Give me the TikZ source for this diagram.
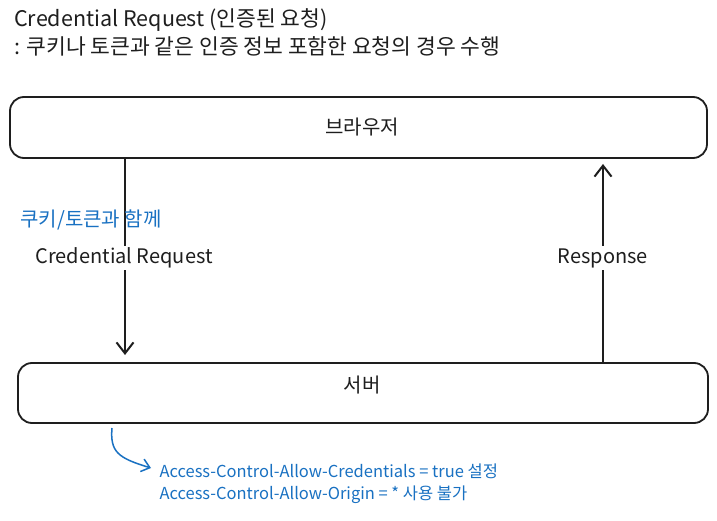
\documentclass[tikz,border=0pt]{standalone}
\usepackage{fontspec}
\setmainfont{Noto Sans CJK KR}
\usetikzlibrary{arrows.meta}
\definecolor{bluetxt}{HTML}{1971C2}
\definecolor{ink}{HTML}{1E1E1E}
\tikzset{
  box/.style={draw=ink, line width=1.8pt, rounded corners=14pt},
  lbl/.style={font=\fontsize{20}{24}\selectfont, text=ink},
  ttl/.style={font=\fontsize{21.5}{26}\selectfont, text=ink, anchor=west, inner sep=0pt},
  flow/.style={draw=ink, line width=2pt, -{Straight Barb[length=11pt,width=17pt,line width=2pt]}},
  note/.style={font=\fontsize{16.5}{20}\selectfont, text=bluetxt, anchor=west},
}
\begin{document}
\begin{tikzpicture}[x=1pt,y=-1pt]
\useasboundingbox[fill=white] (0,0) rectangle (717,521);
% title
\node[ttl] (t1) at (14,20) {Credential Request (인증된 요청)};
\node[ttl] (t2) at (14,46) {: 쿠키나 토큰과 같은 인증 정보 포함한 요청의 경우 수행};
% boxes
\draw[box] (10,97) rectangle (707,158);
\node[lbl] (browser) at (362,127) {브라우저};
\draw[box] (18,363) rectangle (708,423);
\node[lbl] (server) at (362,385) {서버};
\coordinate (bTopL) at (125,158);
\coordinate (sTopL) at (125,355);
\coordinate (sTopR) at (603,363);
\coordinate (bBotR) at (603,164);
% arrows
\draw[flow] (bTopL) -- (sTopL);
\draw[flow] (sTopR) -- (bBotR);
\node[lbl, text=bluetxt, inner sep=0pt] (cookie) at (91,220) {쿠키/토큰과 함께};
\node[lbl, fill=white, inner sep=2pt] (credreq) at (124,258) {Credential Request};
\node[lbl, fill=white, inner sep=2pt] (resp) at (603,258) {Response};
% bottom note
\coordinate (cstart) at (112,428);
\draw[draw=bluetxt, line width=1.5pt, -{Straight Barb[length=8pt,width=13pt,line width=1.5pt]}]
  (cstart) .. controls (110,452) and (118,458) .. (151,468);
\node[note] (n1) at (156,471) {Access-Control-Allow-Credentials = true 설정};
\node[note] (n2) at (156,495) {Access-Control-Allow-Origin = * 사용 불가};
\end{tikzpicture}
\end{document}
